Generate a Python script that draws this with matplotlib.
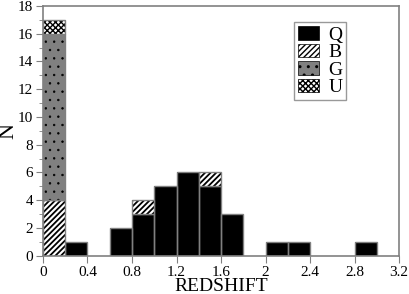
import numpy as np
import matplotlib.pyplot as plt
from matplotlib.patches import Patch

plt.rcParams['font.family'] = ['Liberation Serif', 'DejaVu Serif']

# histogram counts per 0.2 redshift bin, 0 .. 3.2
bin_width = 0.2
q_counts = [0, 1, 0, 2, 3, 5, 6, 5, 3, 0, 1, 1, 0, 0, 1, 0]
b_counts = [4, 0, 0, 0, 1, 0, 0, 1, 0, 0, 0, 0, 0, 0, 0, 0]
g_counts = [12, 0, 0, 0, 0, 0, 0, 0, 0, 0, 0, 0, 0, 0, 0, 0]
u_counts = [1, 0, 0, 0, 0, 0, 0, 0, 0, 0, 0, 0, 0, 0, 0, 0]
labels = ['Q', 'B', 'G', 'U']

edges = np.arange(len(q_counts)) * bin_width
grey = '#808080'

styles = [
    dict(facecolor='black', hatch=None, hlw=1.0),
    dict(facecolor='white', hatch='//////', hlw=1.3),
    dict(facecolor='#808080', hatch='..', hlw=0.5),
    dict(facecolor='white', hatch='xxxxxx', hlw=1.0),
]

fig = plt.figure(figsize=(4.09, 2.94), dpi=100)
ax = fig.add_axes([0.105, 0.13, 0.871, 0.85])

bottom = np.zeros(len(q_counts))
for counts, st in zip([q_counts, b_counts, g_counts, u_counts], styles):
    counts = np.array(counts)
    mask = counts > 0
    with plt.rc_context({'hatch.linewidth': st['hlw']}):
        ax.bar(edges[mask], counts[mask], width=bin_width, bottom=bottom[mask], align='edge',
               facecolor=st['facecolor'], hatch=st['hatch'], edgecolor='black', linewidth=0)
    ax.bar(edges[mask], counts[mask], width=bin_width, bottom=bottom[mask], align='edge',
           fill=False, edgecolor=grey, linewidth=1)
    bottom = bottom + counts

ax.set_xlim(0, 3.2)
ax.set_ylim(0, 18)
ax.set_xticks(np.arange(0, 3.21, 0.4))
ax.set_xticklabels(['0', '0.4', '0.8', '1.2', '1.6', '2', '2.4', '2.8', '3.2'])
ax.set_yticks(np.arange(0, 19, 2))
ax.set_yticks(np.arange(0, 19, 1), minor=True)
ax.tick_params(which='both', color=grey, labelsize=11, direction='out', pad=2)
ax.tick_params(which='major', length=5)
ax.tick_params(which='minor', length=3)
for s in ax.spines.values():
    s.set_color(grey)
    s.set_linewidth(1.2)

ax.set_xlabel('REDSHIFT', fontsize=14)
ax.xaxis.set_label_coords(0.5, -0.088)
ax.set_ylabel('N', fontsize=16)
ax.yaxis.set_label_coords(-0.07, 0.5)

handles = []
for st in styles:
    with plt.rc_context({'hatch.linewidth': st['hlw']}):
        handles.append(Patch(facecolor=st['facecolor'], hatch=st['hatch'],
                             edgecolor='black', linewidth=0.5))
leg = ax.legend(handles, labels, loc='upper right', bbox_to_anchor=(0.852, 0.935),
                fontsize=14, fancybox=False, handlelength=1.05, handleheight=0.7,
                handletextpad=0.5, labelspacing=0.0, borderpad=0.2, borderaxespad=0)
leg.get_frame().set_edgecolor(grey)
leg.get_frame().set_linewidth(1)

fig.savefig('out.png', dpi=100)
